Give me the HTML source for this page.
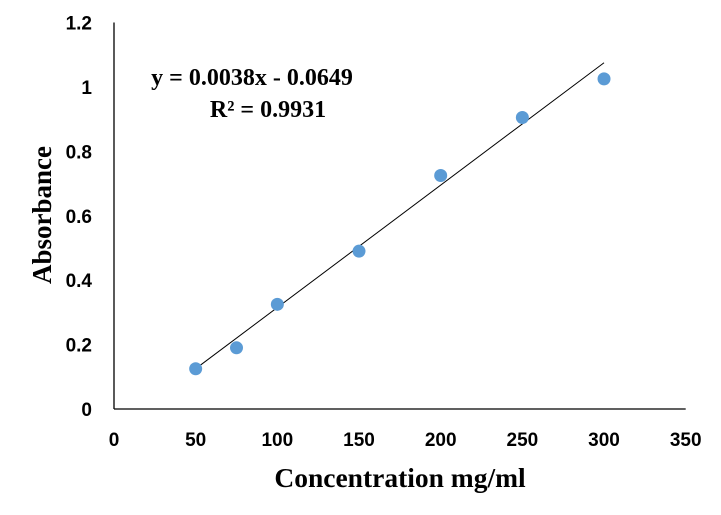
<!DOCTYPE html>
<html><head><meta charset="utf-8"><style>
body{margin:0;background:#fff;}
svg{display:block;}
</style></head><body>
<svg id="chart" width="721" height="515" xmlns="http://www.w3.org/2000/svg">
<g id="axes"></g>
<g id="marks"></g>
<text x="252" y="85" text-anchor="middle" font-family="Liberation Serif, serif" font-weight="bold" font-size="24">y = 0.0038x - 0.0649</text>
<text x="268" y="117" text-anchor="middle" font-family="Liberation Serif, serif" font-weight="bold" font-size="24">R² = 0.9931</text>
<text x="400" y="487" text-anchor="middle" font-family="Liberation Serif, serif" font-weight="bold" font-size="27.5">Concentration mg/ml</text>
<text transform="translate(51,215) rotate(-90)" text-anchor="middle" font-family="Liberation Serif, serif" font-weight="bold" font-size="27">Absorbance</text>
</svg>
<script>
const xValues = [50, 75, 100, 150, 200, 250, 300];
const yValues = [0.125, 0.19, 0.325, 0.49, 0.725, 0.905, 1.025];
const xTicks = [0, 50, 100, 150, 200, 250, 300, 350];
const yTicks = [0, 0.2, 0.4, 0.6, 0.8, 1, 1.2];
const slope = 0.0038;
const intercept = -0.0649;

const X0 = 114, X1 = 685.7, Y0 = 409, Y1 = 22.5;
function sx(v){ return X0 + (v - 0) / 350 * (X1 - X0); }
function sy(v){ return Y0 - v / 1.2 * (Y0 - Y1); }
const NS = "http://www.w3.org/2000/svg";
const axes = document.getElementById('axes');
const marks = document.getElementById('marks');
function mk(tag, attrs, parent){
  const e = document.createElementNS(NS, tag);
  for (const k in attrs) e.setAttribute(k, attrs[k]);
  parent.appendChild(e);
  return e;
}
let yAxis = mk('line', {x1:X0, y1:Y1, x2:X0, y2:Y0, stroke:'#000', 'stroke-width':1.3}, axes);


let xAxis = mk('line', {x1:X0, y1:Y0, x2:X1, y2:Y0, stroke:'#000', 'stroke-width':1.3}, axes);


xTicks.forEach(t => {
  const e = mk('text', {x:sx(t), y:Y0+37, 'text-anchor':'middle', 'font-family':'Liberation Sans, sans-serif', 'font-weight':'bold', 'font-size':19}, axes);
  e.textContent = t;
  
  
});
yTicks.forEach(t => {
  const e = mk('text', {x:X0-22, y:sy(t)+7, 'text-anchor':'end', 'font-family':'Liberation Sans, sans-serif', 'font-weight':'bold', 'font-size':19}, axes);
  e.textContent = t;
  
  
});
const xa = xValues[0], xb = xValues[xValues.length-1];
let tl = mk('line', {x1:sx(xa), y1:sy(slope*xa+intercept), x2:sx(xb), y2:sy(slope*xb+intercept), stroke:'#000', 'stroke-width':1}, marks);


xValues.forEach((x, i) => {
  const c = mk('circle', {cx:sx(x), cy:sy(yValues[i]), r:6.5, fill:'#5b9bd5'}, marks);
  
  
});
</script>
</body></html>
